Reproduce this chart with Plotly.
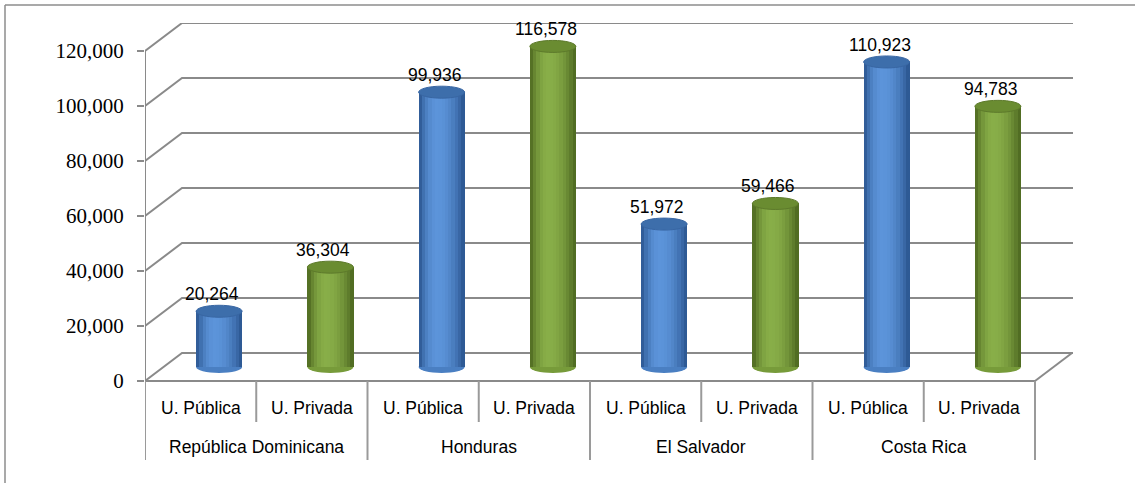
import plotly.graph_objects as go

# ---------------- data ----------------
countries = ["República Dominicana", "Honduras", "El Salvador", "Costa Rica"]
uni_types = ["U. Pública", "U. Privada"]
publica = [20264, 99936, 51972, 110923]
privada = [36304, 116578, 59466, 94783]
y_ticks = [0, 20000, 40000, 60000, 80000, 100000, 120000]

# ---------------- geometry helpers (layout only) ----------------
W, H = 1135, 483
PX_PER_SLOT = 111.25          # pixel width of one category slot
VAL_PER_PX = 20000 / 55.0     # value units per vertical pixel
Y0PX = 381                    # pixel row of value 0 on the front plane
PLOT_L, PLOT_R, PLOT_T, PLOT_B = 145, 1073, 23, 462


def py(p):
    """pixel row -> y value"""
    return (Y0PX - p) * VAL_PER_PX


DX = 37 / PX_PER_SLOT          # full depth, x units
DY = 28 * VAL_PER_PX           # full depth, y units
MDX = 18.5 / PX_PER_SLOT       # mid depth (bars)
MDY = 14 * VAL_PER_PX
XMAX = (PLOT_R - PLOT_L) / PX_PER_SLOT
NSLOT = len(countries) * len(uni_types)

CYL_W = 46 / PX_PER_SLOT
ELL_H = 12 * VAL_PER_PX

GRID = "#8a8a8a"

# flatten the series
values, kinds = [], []
for i in range(len(countries)):
    values += [publica[i], privada[i]]
    kinds += [0, 1]
positions = [k + 0.5 + MDX for k in range(NSLOT)]

fig = go.Figure()

# ---------------- cylinders (strip-shaded bars) ----------------
edge_col = [(40, 82, 140), (74, 100, 30)]
hi_col = [(92, 148, 218), (136, 174, 72)]
top_col = ["#3d6eab", "#6a8c31"]
mid_col = ["#4a7fc2", "#779b3a"]
NSTRIP = 14


def mix(a, b, t):
    return "rgb(%d,%d,%d)" % tuple(round(a[j] + (b[j] - a[j]) * t) for j in range(3))


for s in range(NSTRIP):
    t = (s + 0.5) / NSTRIP
    d = (t - 0.4) / (0.6 if t > 0.4 else 0.4)
    f = max(0.0, 1 - d * d)
    cols = [mix(edge_col[k], hi_col[k], f) for k in kinds]
    fig.add_trace(go.Bar(
        x=positions, y=values, base=[MDY] * NSLOT,
        width=[CYL_W / NSTRIP * 1.06] * NSLOT,
        offset=-CYL_W / 2 + s * CYL_W / NSTRIP,
        marker=dict(color=cols, line=dict(width=0)),
        showlegend=False, hoverinfo="skip",
    ))

shapes = []
# frame of the original picture
fx = (5 - PLOT_L) / (PLOT_R - PLOT_L)
fy = (PLOT_B - 5) / (PLOT_B - PLOT_T)
shapes.append(dict(type="line", xref="paper", yref="paper",
                   x0=fx, x1=fx, y0=fy, y1=(PLOT_B - H - 5) / (PLOT_B - PLOT_T),
                   line=dict(color="#8c8c8c", width=1.5)))
shapes.append(dict(type="line", xref="paper", yref="paper",
                   x0=fx, x1=(W + 5 - PLOT_L) / (PLOT_R - PLOT_L), y0=fy, y1=fy,
                   line=dict(color="#8c8c8c", width=1.5)))

# 3-D gridlines (side wall + back wall)
for v in y_ticks:
    shapes.append(dict(type="path", xref="x", yref="y", layer="below",
                       path="M 0 %f L %f %f L %f %f" % (v, DX, v + DY, XMAX, v + DY),
                       line=dict(color=GRID, width=2)))
# floor right edge
shapes.append(dict(type="line", xref="x", yref="y", layer="below",
                   x0=NSLOT, y0=0, x1=NSLOT + DX, y1=DY, line=dict(color=GRID, width=2)))
# vertical value axis line
shapes.append(dict(type="line", xref="x", yref="y", layer="below",
                   x0=0, y0=0, x1=0, y1=y_ticks[-1], line=dict(color=GRID, width=2)))
# category axis line
shapes.append(dict(type="line", xref="x", yref="y", layer="below",
                   x0=0, y0=0, x1=NSLOT, y1=0, line=dict(color=GRID, width=2)))
# category separators
for k in range(NSLOT + 1):
    bottom = py(460) if k % 2 == 0 else py(422)
    shapes.append(dict(type="line", xref="x", yref="y", layer="below",
                       x0=k, y0=0, x1=k, y1=bottom, line=dict(color="#9a9a9a", width=2)))

# cylinder bottoms and tops
for x, v, k in zip(positions, values, kinds):
    shapes.append(dict(type="circle", xref="x", yref="y", layer="below",
                       x0=x - CYL_W / 2, x1=x + CYL_W / 2,
                       y0=MDY - ELL_H / 2, y1=MDY + ELL_H / 2,
                       fillcolor=mid_col[k], line=dict(width=0)))
    shapes.append(dict(type="circle", xref="x", yref="y", layer="above",
                       x0=x - CYL_W / 2, x1=x + CYL_W / 2,
                       y0=MDY + v - ELL_H / 2, y1=MDY + v + ELL_H / 2,
                       fillcolor=top_col[k], line=dict(color=mix(edge_col[k], hi_col[k], 0.3), width=1)))

NARROW = "'Liberation Sans Narrow', 'Arial Narrow', 'Liberation Sans', Arial, sans-serif"
FS = 17.5
annotations = []
# data labels
for x, v in zip(positions, values):
    annotations.append(dict(x=x, y=MDY + v, xref="x", yref="y", text="{:,}".format(v),
                            showarrow=False, yanchor="middle", yshift=17, xshift=-7,
                            font=dict(family=NARROW, size=FS, color="black")))
# category labels
for k in range(NSLOT):
    annotations.append(dict(x=k + 0.5, y=py(408), xref="x", yref="y", text=uni_types[k % 2],
                            showarrow=False, yanchor="middle",
                            font=dict(family=NARROW, size=FS, color="black")))
for i, c in enumerate(countries):
    annotations.append(dict(x=2 * i + 1, y=py(447), xref="x", yref="y", text=c,
                            showarrow=False, yanchor="middle",
                            font=dict(family=NARROW, size=FS, color="black")))

fig.update_layout(
    width=W, height=H,
    margin=dict(l=PLOT_L, r=W - PLOT_R, t=PLOT_T, b=H - PLOT_B, pad=0),
    paper_bgcolor="white", plot_bgcolor="white",
    barmode="overlay", bargap=0,
    showlegend=False,
    shapes=shapes, annotations=annotations,
    xaxis=dict(range=[0, XMAX], visible=False, fixedrange=True),
    yaxis=dict(range=[py(PLOT_B), py(PLOT_T)], tickvals=y_ticks,
               ticktext=["{:,}".format(v) for v in y_ticks],
               ticks="outside", ticklen=7, tickwidth=2, tickcolor=GRID,
               ticklabelstandoff=9,
               showgrid=False, zeroline=False, showline=False, fixedrange=True,
               tickfont=dict(family="'Liberation Serif', 'Times New Roman', serif", size=21, color="black")),
)

fig.write_html("out.html", config={"displayModeBar": False},
               post_script="document.body.style.margin='0';document.body.style.overflow='hidden';")
